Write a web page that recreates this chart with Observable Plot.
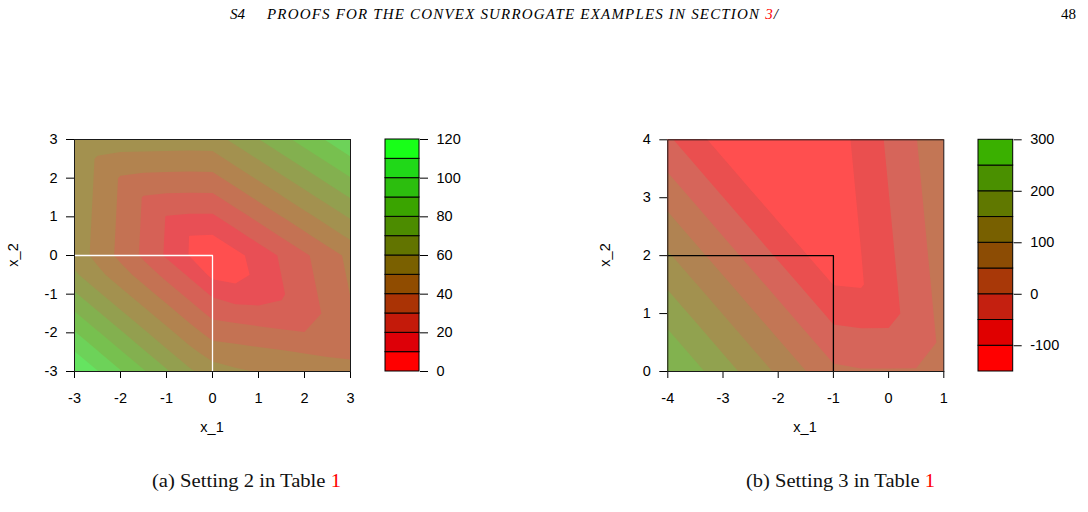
<!DOCTYPE html>
<html>
<head>
<meta charset="utf-8">
<script src="https://cdn.jsdelivr.net/npm/d3@7"></script>
<script src="https://cdn.jsdelivr.net/npm/@observablehq/plot@0.6"></script>
<style>
  html, body { margin: 0; padding: 0; background: #fff; }
  #page { position: relative; width: 1088px; height: 512px; overflow: hidden; background: #fff; }
</style>
</head>
<body>
<div id="page"></div>
<script>
// ---------------- data: panel (a) Setting 2 ----------------
const gridX1A = [-3, -2.5, -2, -1.5, -1, -0.5, 0, 0.5, 1, 1.5, 2, 2.5, 3];
const gridX2A = [3, 2.5, 2, 1.5, 1, 0.5, 0, -0.5, -1, -1.5, -2, -2.5, -3];
const zA = [
  [58.5, 56.2, 55.9, 55.7, 55.4, 55.2, 55.5, 62.6, 69.7, 76.8, 83.9, 91.0, 98.1],
  [58.1, 48.8, 46.8, 46.5, 46.3, 46.0, 46.3, 53.4, 60.5, 67.6, 74.7, 81.8, 88.9],
  [57.7, 48.4, 39.0, 37.4, 37.1, 36.9, 37.0, 44.1, 51.2, 58.3, 65.4, 72.5, 79.6],
  [57.3, 48.0, 38.6, 29.3, 28.0, 27.7, 27.8, 34.9, 42.0, 49.1, 56.2, 63.3, 70.4],
  [56.9, 47.6, 38.2, 28.9, 19.5, 18.6, 18.5, 25.6, 32.7, 39.8, 46.9, 54.0, 61.1],
  [56.5, 47.2, 37.8, 28.5, 19.1, 9.8, 9.3, 16.4, 23.5, 30.6, 37.7, 44.8, 51.9],
  [56.1, 46.8, 37.4, 28.1, 18.7, 9.6, 1.4, 7.1, 14.2, 21.3, 28.4, 35.5, 42.6],
  [61.7, 53.0, 44.4, 35.8, 27.2, 18.6, 7.5, 6.8, 12.0, 20.1, 27.2, 34.3, 41.4],
  [71.4, 61.7, 53.0, 44.4, 35.8, 27.2, 18.6, 14.0, 14.6, 18.9, 26.0, 33.1, 40.2],
  [81.1, 71.4, 61.7, 53.0, 44.4, 35.8, 27.2, 25.4, 23.9, 22.4, 24.8, 31.9, 39.0],
  [90.8, 81.1, 71.4, 61.7, 53.0, 44.4, 36.2, 34.7, 33.2, 31.7, 30.2, 30.7, 37.8],
  [100.5, 90.8, 81.1, 71.4, 61.7, 53.0, 45.5, 44.0, 42.5, 41.0, 39.5, 38.0, 36.6],
  [110.2, 100.5, 90.8, 81.1, 71.4, 61.7, 54.8, 51.5, 49.5, 48.0, 47.0, 46.0, 45.5]
];
const levelsA = [0, 10, 20, 30, 40, 50, 60, 70, 80, 90, 100, 110, 120];
const xTicksA = [-3, -2, -1, 0, 1, 2, 3];
const yTicksA = [-3, -2, -1, 0, 1, 2, 3];
const legendTicksA = [0, 20, 40, 60, 80, 100, 120];
const regionA = [[-3, 0], [0, 0], [0, -3]];

// ---------------- data: panel (b) Setting 3 ----------------
const gridX1B = [-4, -3.5, -3, -2.5, -2, -1.5, -1, -0.5, 0, 0.5, 1];
const gridX2B = [4, 3.5, 3, 2.5, 2, 1.5, 1, 0.5, 0];
const zB = [
  [-41.6, -82.3, -122.9, -145, -145, -145, -125.7, -84.2, -42.7, -1.2, 40.3],
  [-4.7, -45.3, -86.0, -126.6, -145, -145, -129.9, -88.4, -46.9, -5.4, 36.1],
  [32.3, -8.4, -49.0, -89.7, -130.3, -145, -134.0, -92.5, -51.0, -9.5, 32.0],
  [69.2, 28.6, -12.1, -52.7, -93.3, -134.0, -138.2, -96.7, -55.2, -13.7, 27.8],
  [106.2, 65.5, 24.9, -15.8, -56.4, -97.0, -137.7, -100.8, -59.3, -17.8, 23.7],
  [143.1, 102.5, 61.8, 21.2, -19.4, -60.1, -100.7, -104.3, -63.5, -22.0, 19.5],
  [180.0, 139.4, 98.8, 58.1, 17.5, -23.1, -63.8, -68.3, -67.6, -26.1, 15.4],
  [217.0, 176.4, 135.7, 95.1, 54.5, 13.8, -26.8, -32.3, -32.3, -30.3, 11.2],
  [248.0, 213.3, 172.7, 132.0, 91.4, 50.8, 10.1, 3.7, 3.7, 3.7, 7.1]
];
const levelsB = [-150, -100, -50, 0, 50, 100, 150, 200, 250, 300];
const xTicksB = [-4, -3, -2, -1, 0, 1];
const yTicksB = [0, 1, 2, 3, 4];
const legendTicksB = [-100, 0, 100, 200, 300];
const regionB = [[-4, 2], [-1, 2], [-1, 0]];

// ---------------- styles ----------------
const paletteA = ["#ff0000", "#dd0008", "#c41a0a", "#aa3305", "#904c00", "#7a6000",
                  "#627400", "#4c8c00", "#3aa400", "#2cbe0e", "#20d818", "#18ff18"];
const paletteB = ["#ff0000", "#e00000", "#c42010", "#a83808", "#8c4c04", "#786000",
                  "#607800", "#4a9000", "#3ab000"];
const FONT = '"Liberation Sans", Arial, Helvetica, sans-serif';
const SERIF = '"Liberation Serif", "DejaVu Serif", serif';
const ALPHA = 0.69;
const fmt = d => String(d);

const page = document.getElementById("page");
function place(el, left, top) {
  el.style.position = "absolute";
  el.style.left = left + "px";
  el.style.top = top + "px";
  page.appendChild(el);
}

function panel({xs, ys, z, levels, palette, xTicks, yTicks, region, regionColor, w, h, ml, mr, mt, mb}) {
  const dx = xs[1] - xs[0], dy = ys[1] - ys[0];
  const fills = palette.map(c => d3.interpolateRgb("#ffffff", c)(ALPHA));
  return Plot.plot({
    width: w, height: h,
    marginLeft: ml, marginRight: mr, marginTop: mt, marginBottom: mb,
    style: {fontFamily: FONT, fontSize: "14.5px", color: "#000", background: "transparent", overflow: "visible"},
    x: {domain: d3.extent(xs), ticks: xTicks, tickFormat: fmt, tickSize: 7, tickPadding: 14, label: null},
    y: {domain: d3.extent(ys), ticks: yTicks, tickFormat: fmt, tickSize: 8, tickPadding: 9, label: null},
    color: {type: "threshold", domain: levels.slice(1, -1), range: fills},
    marks: [
      Plot.contour(z.flat(), {
        width: xs.length, height: ys.length,
        x1: xs[0] - dx / 2, x2: xs[xs.length - 1] + dx / 2,
        y1: ys[0] - dy / 2, y2: ys[ys.length - 1] + dy / 2,
        value: d => d, thresholds: levels.slice(0, -1),
        fill: "value", stroke: "none", clip: true
      }),
      Plot.line(region, {x: d => d[0], y: d => d[1], stroke: regionColor, strokeWidth: 1.3}),
      Plot.frame({stroke: "#1a1a1a", strokeWidth: 1})
    ]
  });
}

function legend({levels, palette, ticks, w, h, ml, mr, mt, mb}) {
  const bands = palette.map((c, i) => ({lo: levels[i], hi: levels[i + 1], c}));
  return Plot.plot({
    width: w, height: h,
    marginLeft: ml, marginRight: mr, marginTop: mt, marginBottom: mb,
    style: {fontFamily: FONT, fontSize: "14.5px", color: "#000", background: "transparent", overflow: "visible"},
    x: {domain: [0, 1], axis: null},
    y: {domain: [levels[0], levels[levels.length - 1]], ticks, tickFormat: fmt, tickSize: 8, tickPadding: 9, label: null, axis: "right"},
    color: {type: "identity"},
    marks: [
      Plot.rect(bands, {x1: 0, x2: 1, y1: "lo", y2: "hi", fill: d => d.c, stroke: "#000", strokeWidth: 1})
    ]
  });
}

// panel (a)
place(panel({xs: gridX1A, ys: gridX2A, z: zA, levels: levelsA, palette: paletteA,
  xTicks: xTicksA, yTicks: yTicksA, region: regionA, regionColor: "#ffffff",
  w: 360, h: 320, ml: 74, mr: 10, mt: 39, mb: 49}), 0, 100);
place(legend({levels: levelsA, palette: paletteA, ticks: legendTicksA,
  w: 120, h: 320, ml: 25, mr: 61, mt: 39, mb: 49}), 360, 100);

// panel (b)
place(panel({xs: gridX1B, ys: gridX2B, z: zB, levels: levelsB, palette: paletteB,
  xTicks: xTicksB, yTicks: yTicksB, region: regionB, regionColor: "#000000",
  w: 370, h: 320, ml: 87.3, mr: 6.7, mt: 39.3, mb: 49}), 580, 100);
place(legend({levels: levelsB, palette: paletteB, ticks: legendTicksB,
  w: 138, h: 320, ml: 28, mr: 75.3, mt: 39.3, mb: 49}), 950, 100);

// ---------------- text overlay ----------------
const ov = d3.create("svg").attr("width", 1088).attr("height", 512)
  .style("position", "absolute").style("left", "0px").style("top", "0px")
  .style("pointer-events", "none").style("overflow", "visible");

// running header
ov.append("text").attr("x", 230).attr("y", 19).attr("font-family", SERIF)
  .attr("font-style", "italic").attr("font-size", 15).attr("fill", "#000").text("S4");
const hd = ov.append("text").attr("x", 267).attr("y", 19).attr("font-family", SERIF)
  .attr("font-style", "italic").attr("font-size", 15).attr("fill", "#000")
  .attr("textLength", 511).attr("lengthAdjust", "spacing");
hd.append("tspan").text("PROOFS FOR THE CONVEX SURROGATE EXAMPLES IN SECTION ");
hd.append("tspan").attr("fill", "#ff0000").text("3");
hd.append("tspan").text("/");
ov.append("text").attr("x", 1076).attr("y", 19).attr("text-anchor", "end").attr("font-family", SERIF)
  .attr("font-size", 15).attr("fill", "#000").text("48");

// axis titles
function axisTitle(x, y, label, rotate) {
  ov.append("text").attr("transform", `translate(${x},${y})` + (rotate ? " rotate(-90)" : ""))
    .attr("text-anchor", "middle").attr("dominant-baseline", "middle")
    .attr("font-family", FONT).attr("font-size", 14.5).attr("fill", "#000").text(label);
}
axisTitle(212, 428, "x_1", false);
axisTitle(14, 255, "x_2", true);
axisTitle(805, 428, "x_1", false);
axisTitle(606, 255, "x_2", true);

// captions
function caption(x, label, w) {
  const t = ov.append("text").attr("x", x).attr("y", 487).attr("font-family", SERIF)
    .attr("font-size", 19.5).attr("fill", "#111").attr("textLength", w).attr("lengthAdjust", "spacingAndGlyphs");
  t.append("tspan").text(label);
  t.append("tspan").attr("fill", "#ff0000").text("1");
}
caption(152, "(a) Setting 2 in Table ", 189);
caption(746, "(b) Setting 3 in Table ", 189);

page.appendChild(ov.node());
</script>
</body>
</html>
